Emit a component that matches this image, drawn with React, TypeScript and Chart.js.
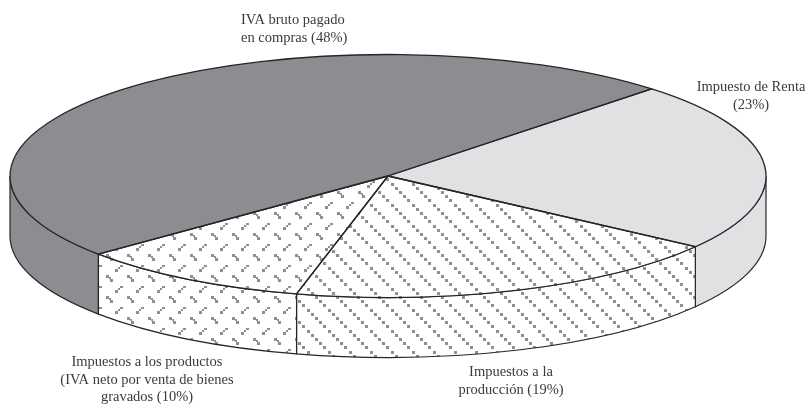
import React, { useEffect, useRef } from "react";
import { Chart, registerables } from "chart.js";

Chart.register(...registerables);

const categories = ["IVA bruto pagado en compras", "Impuesto de Renta", "Impuestos a la producción", "Impuestos a los productos"];
const shares = [48.4, 22.6, 19, 10];
const labelLines = [
  ["IVA bruto pagado", "en compras (48%)"],
  ["Impuesto de Renta", "(23%)"],
  ["Impuestos a la", "producción (19%)"],
  ["Impuestos a los productos", "(IVA neto por venta de bienes", "gravados (10%)"],
];
const labelAnchors = [
  { x: 241, y: 20, align: "left" },
  { x: 751, y: 87, align: "center" },
  { x: 511, y: 372, align: "center" },
  { x: 147, y: 362, align: "center" },
];

const CX = 388;
const CY = 176;
const RX = 378;
const RY = 121.5;
const DEPTH = 60;
const ROTATION = 230;
const LINE_HEIGHT = 17.8;
const INK = "#26262a";
const TEXT = "#3a3a3c";
const DARK = "#8c8d90";
const LIGHT = "#e0e1e3";
const DOT = "#8f8f8f";

function tile(draw: (c: CanvasRenderingContext2D) => void) {
  const cv = document.createElement("canvas");
  cv.width = 21;
  cv.height = 21;
  const c = cv.getContext("2d") as CanvasRenderingContext2D;
  c.fillStyle = "#ffffff";
  c.fillRect(0, 0, 21, 21);
  c.fillStyle = DOT;
  draw(c);
  return cv;
}

function hatchTile() {
  return tile((c) => {
    [0, 4, 8, 13, 17].forEach((x) => {
      for (const ox of [0, -21, 21]) {
        for (const oy of [0, -21, 21]) c.fillRect(x + ox, x + 2 + oy, 3, 3);
      }
    });
  });
}

function crossTile() {
  return tile((c) => {
    c.fillRect(10, 17, 3, 3);
    c.fillRect(13, 15, 2, 2);
    c.fillRect(15, 13, 3, 2);
    c.fillRect(1, 2, 3, 3);
    c.fillRect(4, 4, 2, 2);
    c.fillRect(5, 6, 3, 3);
  });
}

export default function App() {
  const ref = useRef<HTMLCanvasElement>(null);

  useEffect(() => {
    const canvas = ref.current as HTMLCanvasElement;
    const ctx0 = canvas.getContext("2d") as CanvasRenderingContext2D;
    const hatchT = hatchTile();
    const crossT = crossTile();
    const topHatch = ctx0.createPattern(hatchT, "repeat") as CanvasPattern;
    const topCross = ctx0.createPattern(crossT, "repeat") as CanvasPattern;
    const sideHatch = ctx0.createPattern(hatchT, "repeat") as CanvasPattern;
    const sideCross = ctx0.createPattern(crossT, "repeat") as CanvasPattern;
    const sideFills = [DARK, LIGHT, sideHatch, sideCross];

    const applyTilt = (ctx: CanvasRenderingContext2D, arc: any) => {
      ctx.translate(CX, CY);
      ctx.scale(RX / arc.outerRadius, RY / arc.outerRadius);
      ctx.translate(-arc.x, -arc.y);
    };

    const tilt = {
      id: "tilt",
      beforeDatasetsDraw(chart: any) {
        const ctx = chart.ctx as CanvasRenderingContext2D;
        const arcs = chart.getDatasetMeta(0).data;

        // Side wall: only the front half of the rim is visible.
        arcs.forEach((arc: any, i: number) => {
          for (const k of [-1, 0, 1]) {
            const shift = k * 2 * Math.PI;
            const a0 = Math.max(arc.startAngle + shift, 0);
            const a1 = Math.min(arc.endAngle + shift, Math.PI);
            if (a1 <= a0) continue;
            ctx.beginPath();
            ctx.ellipse(CX, CY, RX, RY, 0, a0, a1);
            ctx.ellipse(CX, CY + DEPTH, RX, RY, 0, a1, a0, true);
            ctx.closePath();
            ctx.fillStyle = sideFills[i];
            ctx.fill();
            ctx.strokeStyle = INK;
            ctx.lineWidth = 1.2;
            ctx.stroke();
          }
        });

        // Tilt the pie's own arcs into the top ellipse.
        ctx.save();
        applyTilt(ctx, arcs[0]);
        const inv = ctx.getTransform().inverse();
        topHatch.setTransform(inv);
        topCross.setTransform(inv);
      },
      afterDatasetsDraw(chart: any) {
        const ctx = chart.ctx as CanvasRenderingContext2D;
        ctx.restore();
        const arcs = chart.getDatasetMeta(0).data;

        arcs.forEach((arc: any) => {
          ctx.save();
          applyTilt(ctx, arc);
          ctx.beginPath();
          ctx.moveTo(arc.x, arc.y);
          ctx.arc(arc.x, arc.y, arc.outerRadius, arc.startAngle, arc.endAngle);
          ctx.closePath();
          ctx.restore();
          ctx.strokeStyle = INK;
          ctx.lineWidth = 1.3;
          ctx.lineJoin = "round";
          ctx.stroke();
        });

        ctx.save();
        ctx.fillStyle = TEXT;
        ctx.font = "14.5px 'Liberation Serif', serif";
        ctx.textBaseline = "middle";
        labelLines.forEach((lines, i) => {
          const a = labelAnchors[i];
          ctx.textAlign = a.align as CanvasTextAlign;
          lines.forEach((line, j) => ctx.fillText(line, a.x, a.y + j * LINE_HEIGHT));
        });
        ctx.restore();
      },
    };

    const chart = new Chart(canvas, {
      type: "pie",
      data: {
        labels: categories,
        datasets: [
          {
            data: shares,
            backgroundColor: [DARK, LIGHT, topHatch, topCross],
            borderWidth: 0,
            clip: false,
          } as any,
        ],
      },
      options: {
        responsive: false,
        animation: false,
        rotation: ROTATION,
        layout: { padding: 0 },
        events: [],
        plugins: { legend: { display: false }, tooltip: { enabled: false }, title: { display: false } },
      },
      plugins: [tilt],
    });
    return () => chart.destroy();
  }, []);

  return (
    <div style={{ position: "fixed", left: 0, top: 0, width: 809, height: 404, background: "#fff" }}>
      <canvas ref={ref} width={809} height={404} style={{ display: "block" }} />
    </div>
  );
}
